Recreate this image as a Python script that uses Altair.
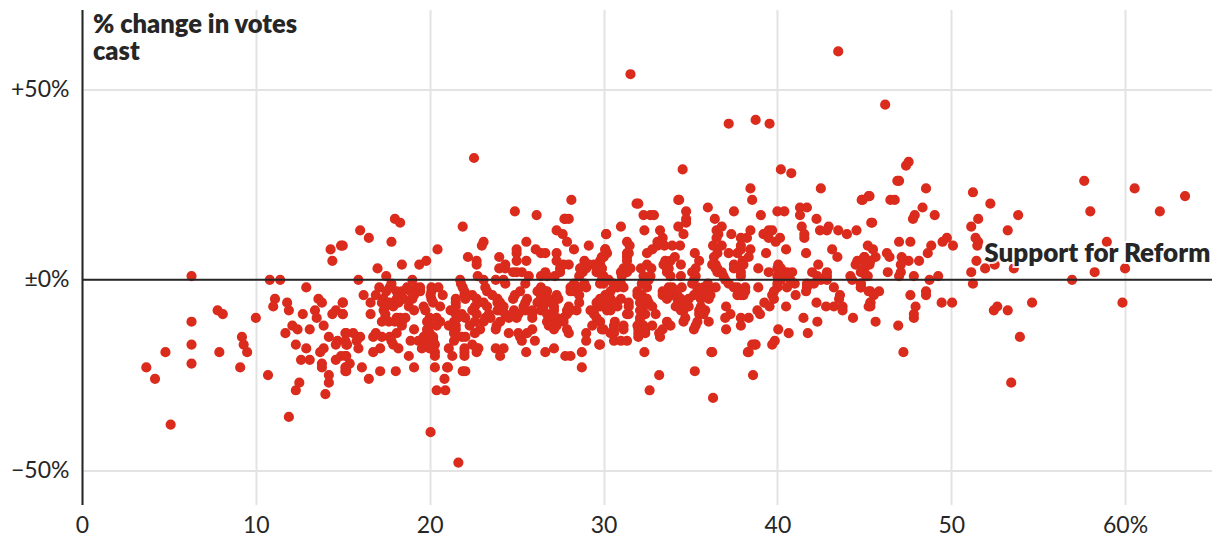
import altair as alt
import pandas as pd

# Each point: (support for Reform %, change in votes cast %)
left_points = [(6.3,1),(10.8,0),(11.4,0),(14.9,9),(14.3,8),(14.4,5),(12.9,-2),(11.1,-5),(11,-7),(11.8,-6),(11.9,-8),
 (13.6,-5),(13.8,-6),(15,-6),(13.4,-8),(13.5,-10),(12.7,-9),(14.4,-9),(14.6,-8),(15,-9),(7.8,-8),(8.1,-9),(6.3,-11),
 (10,-10),(12.1,-12),(12.4,-13),(13.1,-13),(13.9,-12),(11.7,-14),(9.2,-15),(9.3,-17),(9.5,-19),(6.3,-17),(4.8,-19),
 (7.9,-19),(6.3,-22),(3.7,-23),(4.2,-26),(9.1,-23),(10.7,-25),(12.3,-17),(12.9,-18),(14.2,-15),(14.7,-16),(14.6,-17),
 (15.2,-14),(15.2,-17),(13.9,-18),(13.7,-19),(12.6,-21),(13.1,-21),(14.9,-20),(15.2,-20),(14.6,-21),(13.8,-22),(13.8,-23),
 (15.2,-23),(15.2,-24),(14.2,-25),(14.2,-27),(12.5,-27),(12.3,-29),(14,-30),(5.1,-38),(11.9,-36),(20.05,-40),(21.65,-48),
 (20.4,-29),(20.9,-29),(21,-23),(21.9,-24),(32.65,-29),(33.2,-25),(35.25,-24),(36.3,-31),(36.2,-19),(38.6,-25),(38.3,-19),
 (38.7,-17),(39.7,-17)]
upper_left = [(16,13),(16.5,11),(17.8,10),(15,9),(18.3,15),(18,16),(21.9,14),(20.45,8),(23.1,10),(23,9),(22.2,6),(22.7,5),
 (22.7,4),(27.3,13),(27.65,12),(27.9,10),(27.8,16),(30.15,12),(25.56,10),(25,8),(25,7),(25,5),(24,6),(25.56,5),(26.1,8),
 (26.4,7),(26.65,7),(27.3,7),(28.3,8),(29.15,9),(30.1,8),(29.9,6),(27.3,5),(28,4),(27.7,4),(24.35,4),(24,3),(24.35,3),
 (18.4,4),(19.4,4),(19.8,5),(17,3),(17.5,1),(22.76,1),(24.8,2),(25.3,2),(25.7,1),(26.65,2),(26.4,1),(27.2,1),(27.5,2),
 (28.9,5),(28.9,4),(29.45,4),(29.9,3),(29,3),(28.8,2),(29.6,2),(30,1),(28.6,1),(22.55,32),(24.9,18),(26.15,17),(27.75,16),(28,16)]
upper_mid = [(31.9,20),(32,20),(34.35,21),(36,19),(38.55,21),(34.75,18),(34.75,16),(34.75,15),(32.3,17),(32.7,17),(32.9,17),
 (36.4,16),(37.5,18),(39.05,17),(40,18),(40.4,18),(41.3,19),(41.7,19),(41.3,17),(42.25,16),(44.85,21),(31,14),(30.15,12),
 (32.35,13),(34.3,14),(34.6,12),(33.25,13),(33.4,11),(33.1,10),(31.35,10),(31.5,9),(36.8,14),(36.5,13),(36.6,12),(36.5,11),
 (36.8,9),(36.3,9),(37.35,12),(38.45,13),(38.25,11),(37.9,11),(39.2,12),(39.5,13),(39.7,13),(39.5,11),(39.9,10),(40.15,11),
 (41.4,14),(41.55,12),(41.55,11),(42.45,13),(42.85,13),(42.95,14),(43.5,13),(44,12),(44.55,13),(45.4,15),(33.1,9),(33.5,9),
 (33.95,9),(34.4,9),(32.8,8),(37.9,8),(38.45,8),(40.5,8),(43.15,8),(37.9,9)]
right_points = [(47,26),(48.55,24),(44.9,21),(45.3,22),(46.5,21),(46.75,21),(48.35,19),(47.9,17),(47.8,16),(49.05,17),(45.45,15),
 (47,10),(47.65,10),(48.85,9),(48.65,7),(48.15,5),(47.55,5),(47.15,6),(47.1,4),(47.1,2),(47,1),(46.35,2),(46.3,7),(46.45,6),
 (45.2,9),(45.5,8),(45.65,6),(45.3,4),(45,6),(45,5),(44.8,2),(45.1,1),(47.85,1),(49.25,1),(48.75,0),(49.75,11),(49.5,10),
 (50.1,9),(51.25,23),(52.25,20),(53.85,17),(51.55,16),(51.15,14),(53.25,13),(51.4,11),(51.55,10),(51.5,9),(51.45,5),(51.15,2),
 (51.25,-1),(51.95,3),(52.5,4),(53.6,3),(58.95,10),(57.65,26),(58,18),(60.55,24),(62,18),(63.45,22),(58.25,2),(60,3),(56.95,0),
 (59.85,-6),(54.65,-6),(53.25,-8),(52.45,-8),(52.65,-7),(53.95,-15),(47.25,-19),(46.95,-12),(45.65,-11),(47.85,-10),(47.85,-9),
 (47.95,-7),(45.35,-6),(45.35,-7),(45.35,-3),(45.85,-3),(45.55,-4),(47.65,-4),(48.55,-3),(48.55,-4),(49.45,-6),(50.05,-6),
 (44.8,-1),(44.8,-2),(53.45,-27)]
outliers = [(31.55,54),(43.5,60),(46.2,46),(37.2,41),(38.75,42),(39.55,41),(34.55,29),(40.2,29),(40.8,28),(47.55,31),(47.4,30),
 (46.9,26),(42.5,24),(38.45,24),(28.15,21),(34.3,21),(45.25,22)]
band_fill = [(17.8,-2),(18.4,-3),(17.7,-6),(17.35,-5),(18.1,-5),(18.5,-5),(19.45,-2),(19,-5),(20.1,-5),(21.5,-7),(22,-4),(22.05,-5),
 (22.45,-4),(23.1,-6),(23.9,-6),(23.9,-8),(23.2,-10),(23.4,-9),(25,-10),(25.5,-8),(26.4,-5),(26.65,-3),(27.15,-7),(27.9,-8),(28.3,-3),
 (29,-2),(29.8,-7),(29.45,-8),(29.7,-11),(27.15,-10),(26.85,-12),(20,-14),(20,-10),(21.4,-11),(18.1,-10),(18.4,-11),(17.45,-10),
 (20.2,-15),(20,-18),(20.1,-16),(22.8,-18),(21.5,-13),(30.4,-5),(30,-7),(30.8,-7),(30.4,-3),(30.6,-1),(30.8,-2),(32.3,-1),(32.2,-4),
 (32.5,-5),(32.1,-6),(32.4,-9),(31.45,-7),(31.45,-9),(32.1,-11),(30.65,-11),(33.85,-4),(33.95,-2),(34.25,-5),(34.15,-7),(34.9,-5),
 (34.6,-8),(35.4,-2),(35.75,-4),(35.6,-7),(35.75,-9),(37.7,-2),(37.9,-4),(32.5,4),(33.75,3),(36.55,3),(37.8,3),(38,4),(37.9,1),
 (36.45,4),(36.8,2),(40,3),(40.3,2),(30.1,8),(30,6),(31.25,2),(31.35,7),(29.8,2),(29.9,0),(25,2),(28.65,3),(29.15,4),(29.6,3),
 (29.8,5),(27.5,3),(26.75,1)]

# (change in votes cast %, [support for Reform %, ...])
band_left = [
 (0,[15.9,19,21.75,23.1,23.8,24.25]),
 (-1,[17.8,21.8,24.35,25.5,28.3,28.9,30]),
 (-2,[17.1,17.7,18.7,19.2,20.1,20.5,21.9,23.2,26.4,28.1,28.6]),
 (-3,[17.5,18.1,18.9,19.45,20.1,22,23.3,25.2,26.2,26.75,28.1]),
 (-4,[16.2,16.9,19.1,20.05,20.75,22.15,23.6,24.9,26.4,27.3,28.6]),
 (-5,[18.4,21.5,22.7,23.9,24.8,25.6,26.85,27.4,29.8,30.4]),
 (-6,[15,16.6,17.25,18.2,20.2,21.5,22.8,24.05,25.5,26.2,27,28.6,29.6]),
 (-7,[17.45,17.9,18.8,19.65,20.6,22.6,23.3,24.25,25.4,26.55,28,30]),
 (-8,[17.35,19.1,19.75,21.2,22.45,24.05,24.85,25.9,26.4,27.15,28.1,28.45,29.25,30.2]),
 (-9,[15,16.6,17.45,21.5,21.85,22.7,24.35,25.1,25.9,26.75,27.9,29.45]),
 (-10,[18.3,18.6,20.4,21.6,22.05,23.3,23.5,24.55,25.9,27.3,27.7,29.6]),
 (-11,[17.25,17.65,18,19.85,20.6,22.6,23.1,24.05,26.75,27.7,29.8]),
 (-12,[18.4,20,20.4,21.1,21.5,22.3,23.85,27,27.3,29.35]),
 (-13,[19.1,19.85,21.4,22.9,23.8,25.9,27.15,27.9,30]),
 (-14,[15.15,15.6,16.9,18.1,19.85,21.4,22.6,24.55,25.1,25.6,28,29,30.4]),
 (-15,[16,16.75,17.25,17.7,19.65,21.85,22.05,25.2]),
 (-16,[15.15,15.8,17.8,18.9,19.35,20.2,21.4,25.3,26.05,29]),
 (-17,[15.25,17.9,19.65,20.3,22.45,29.75]),
 (-18,[15.9,17.15,18.2,19.55,21.1,22,22.7,23.8,24.25,27.15]),
 (-19,[16.75,20.3,22,22.7,25.55,26.65,28.75]),
 (-20,[15.15,18.8,20.3,21.3,22,24.05,27.8,28.1]),
 (-22,[15.4]),
 (-23,[15.15,16.1,19.1,20.3,21.05,28.75]),
 (-24,[15.15,17.15,18.05,22.05]),
 (-26,[16.5,20.85]),
]
band_mid = [
 (7,[30.2,31.45,32.5,35.25,36.55,37.2,37.7,39.35,41.65]),
 (6,[30,31.35,34.1,36.35,38.35,43.45,45]),
 (5,[31.35,33.55,33.85,35.5,38,44.6,45.35]),
 (4,[29.8,33.45,34.45,36.25,37.5,38.05,40.05,42.35,44.5]),
 (3,[29.9,31.15,31.55,32.15,32.75,33.65,35.3,36.45,37.5,38.9,40.2,45]),
 (2,[31,31.35,33.65,35.1,36.55,37.9,39.5,40.55,40.85,42,42.85,44.9]),
 (1,[31.05,32.3,32.7,33.85,34.45,35.3,36.9,40,40.3,42.3,42.85,44.2,45.2]),
 (0,[30.3,32.6,35.2,37,40.2,40.75,42.5,42.85,44.3]),
 (-1,[29.8,31,32.2,35.1,36,37.2,40,41,41.7,42.1,44.8]),
 (-2,[30.6,31.15,32.5,33.75,34.5,35.75,36.45,37.5,38.15,38.9,40,40.55,41.7,43.25,44.8]),
 (-3,[31.95,33.4,33.95,35.4,36,37.9,38.15,39.8,41.65,45.25]),
 (-4,[30.1,31.95,33.4,34.25,35.2,36.15,37.7,38.05,39.7,41.05,43.6]),
 (-5,[30.1,31,32.4,33.65,34.45,35.6,36.05,39.8,43.55]),
 (-6,[29.8,30.6,31.45,32.6,34.6,39.25,42.25,45.35]),
 (-7,[30.2,30.6,32.3,32.8,34.35,34.9,37.05,39.55,40.5,42.8,43.25,43.75,45.25]),
 (-8,[30.4,32.1,34.45,35.5,35.85,38.85,43.75]),
 (-9,[31.35,33,35.5,37.3,39]),
 (-10,[32.1,34.7,37,37.9,38.35,41.5,44.35]),
 (-11,[33.65,34.6,35.4,36.05,42.3]),
 (-12,[30.6,31.15,31.95,32.3,32.8,33.85,35.3,37.9]),
 (-13,[29.9,30.6,31.15,32,32.4,33.4,35.2,37.05,40.05]),
 (-14,[30.6,32,32.4,33.2,40.65,41.75]),
 (-15,[32,33.25]),
 (-16,[30.6,31,31.35,39.85]),
 (-17,[29.8,38.55,38.75]),
 (-19,[32.35,36.25,38.35]),
]

x_ticks = [0, 10, 20, 30, 40, 50, 60]
y_ticks = [-50, 0, 50]
heading_lines = ["% change in votes", "cast"]
heading_y = [64.8, 57.8]
x_label = "Support for Reform"

points = left_points + upper_left + upper_mid + right_points + outliers + band_fill
for level, xs in band_left + band_mid:
    points += [(x, level) for x in xs]
df = pd.DataFrame(points, columns=["support", "change"])

INK = "#262626"
GRID = "#e3e3e3"
RED = "#da2b1d"
FONT = "Lato"

x_scale = alt.Scale(domain=[0, 65], nice=False, zero=False)
y_scale = alt.Scale(domain=[-59, 71], nice=False, zero=False)

dots = alt.Chart(df).mark_circle(size=104, color=RED, opacity=1).encode(
    x=alt.X("support:Q", scale=x_scale, title=None,
            axis=alt.Axis(values=x_ticks, grid=True, gridColor=GRID, gridWidth=2, domain=False, ticks=False,
                          labelFont=FONT, labelFontSize=23, labelColor=INK, labelPadding=10, labelFlush=False,
                          labelExpr="datum.value == 60 ? '60%' : datum.value")),
    y=alt.Y("change:Q", scale=y_scale, title=None,
            axis=alt.Axis(values=y_ticks, grid=True, gridColor=GRID, gridWidth=2, domain=True, domainColor=INK,
                          domainWidth=2, ticks=False, labelFont=FONT, labelFontSize=23, labelColor=INK,
                          labelPadding=13,
                          labelExpr="datum.value > 0 ? '+' + datum.value + '%' : datum.value < 0 ? '\u2212' + abs(datum.value) + '%' : '\u00b10%'")),
)

zero_line = alt.Chart(pd.DataFrame({"change": [0]})).mark_rule(color=INK, strokeWidth=2).encode(
    y=alt.Y("change:Q", scale=y_scale))

heading = alt.Chart(pd.DataFrame({"t": heading_lines, "x": [0.63, 0.63], "y": heading_y})).mark_text(
    align="left", baseline="alphabetic", font=FONT, fontSize=25.5, fontWeight=800, color=INK
).encode(x=alt.X("x:Q", scale=x_scale), y=alt.Y("y:Q", scale=y_scale), text="t:N")

label_df = pd.DataFrame({"t": [x_label], "x": [64.9], "y": [4.7]})
label_halo = alt.Chart(label_df).mark_text(
    align="right", baseline="alphabetic", font=FONT, fontSize=26, fontWeight=800,
    stroke="white", strokeWidth=4, strokeOpacity=0.85, color="white"
).encode(x=alt.X("x:Q", scale=x_scale), y=alt.Y("y:Q", scale=y_scale), text="t:N")
label = alt.Chart(label_df).mark_text(
    align="right", baseline="alphabetic", font=FONT, fontSize=26, fontWeight=800, color=INK
).encode(x=alt.X("x:Q", scale=x_scale), y=alt.Y("y:Q", scale=y_scale), text="t:N")

chart = alt.layer(dots, zero_line, heading, label_halo, label).properties(
    width=1130, height=495,
    autosize=alt.AutoSizeParams(type="none"),
    padding={"left": 74, "top": 1.5, "right": 0, "bottom": 40},
).configure_view(stroke=None)

chart.save("out.html", embed_options={"renderer": "svg", "actions": False})
